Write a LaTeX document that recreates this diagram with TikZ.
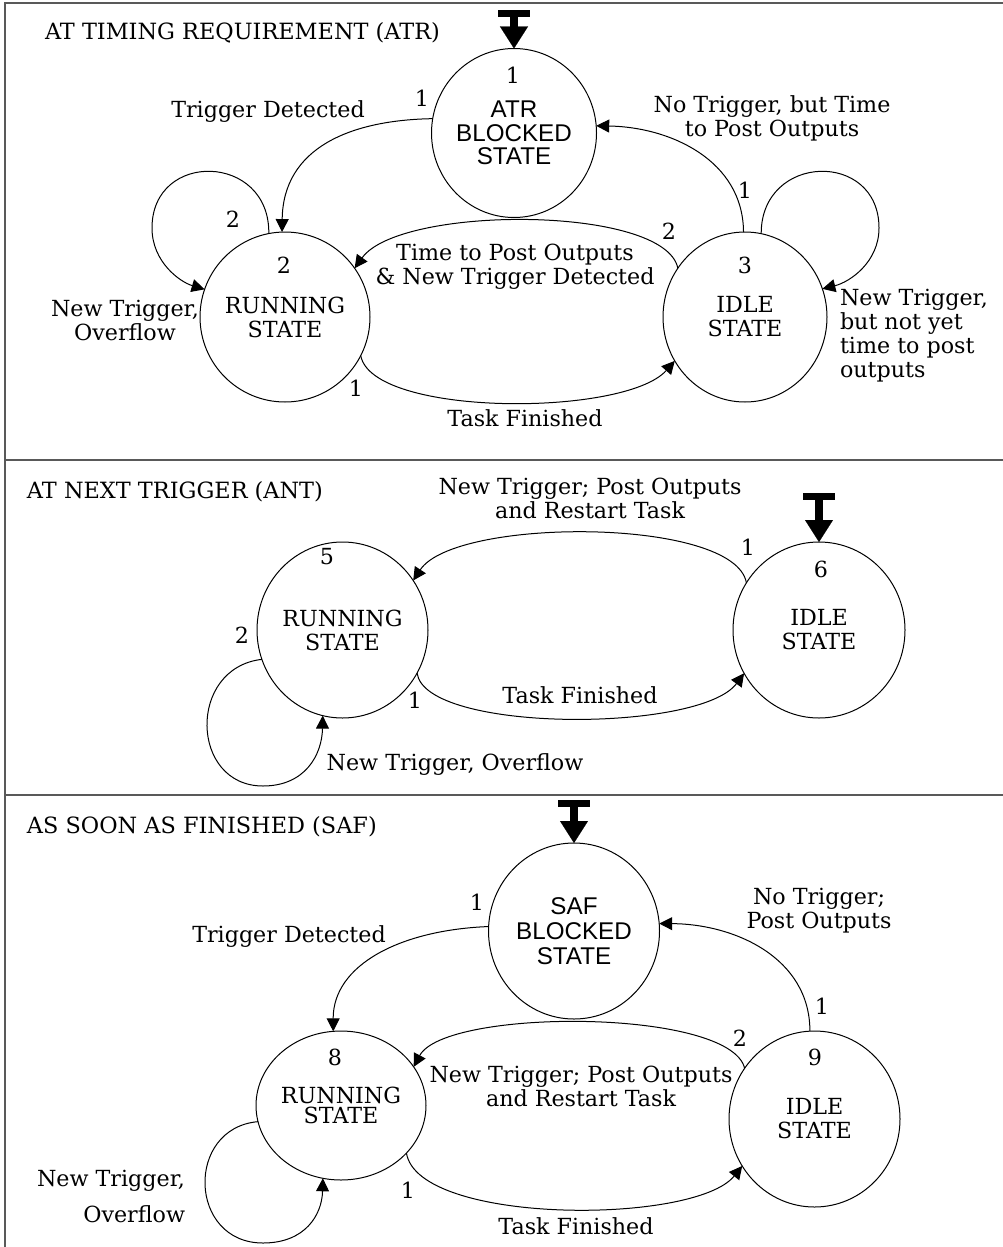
\documentclass[tikz,border=0pt]{standalone}
\usepackage{fontspec}
\setmainfont{DejaVu Serif}
\newfontfamily\statesans{Liberation Sans}
\usetikzlibrary{arrows.meta,shapes.geometric}
\newcommand\lblfont{\fontsize{22.2}{24}\selectfont}
\newcommand\ttlfont{\fontsize{22.4}{24}\selectfont}
\newcommand\sansfont{\statesans\fontsize{24.2}{23.5}\selectfont}

\begin{document}
\begin{tikzpicture}[x=1pt,y=-1pt,
  every node/.style={inner sep=0pt, outer sep=0pt},
  frame/.style={draw=black!65, line width=1.6pt},
  lbl/.style={font=\lblfont, align=center},
  ttl/.style={font=\ttlfont, anchor=west},
  stnode/.style 2 args={ellipse, draw, line width=1pt, minimum width=#1, minimum height=#2, align=center, font=\lblfont},
  edge/.style={draw, line width=1pt, -{Triangle[length=13pt,width=13pt]}},
  initarrow/.style={draw, line width=8pt, {Rectangle[length=7pt,width=32pt]}-{Triangle[length=22pt,width=28pt,line width=0.1pt]}},
]
\useasboundingbox (0,0) rectangle (1003,1247);

% panel frame and separators
\draw[frame] (5,1247) -- (5,3) -- (1003,3);
\draw[frame] (5,460) -- (1003,460);
\draw[frame] (5,795) -- (1003,795);

% ================= ATR =================
\node[ttl] (t1) at (45,33) {AT TIMING REQUIREMENT (ATR)};

\node[stnode={165}{169}, font=\sansfont] (n1) at (514,133) {ATR\\BLOCKED\\STATE};
\node[stnode={165}{170}] (n2) at (285,317) {RUNNING\\STATE};
\node[stnode={164}{170}] (n3) at (745,317) {IDLE\\STATE};
\node[lbl] (n1num) at (513,75) {1};
\node[lbl] (n2num) at (284,265) {2};
\node[lbl] (n3num) at (745,265) {3};

\coordinate (s1) at (514,10);
\draw[initarrow] (s1) -- (n1.north);

\draw[edge] (n1.170) .. controls (350,120) and (283,148) .. (n2.92);
\draw[edge] (n2.101) .. controls (270,153) and (152,150) .. (152,228)
                     .. controls (152,262) and (180,282) .. (n2.161);
\draw[edge] (n3.144) .. controls (665,205) and (400,205) .. (n2.35);
\draw[edge] (n2.-27) .. controls (372,417) and (625,417) .. (n3.212);
\draw[edge] (n3.91) .. controls (743,160) and (670,127) .. (n1.5);
\draw[edge] (n3.79) .. controls (761,153) and (879,150) .. (879,228)
                    .. controls (879,262) and (850,282) .. (n3.20);

\node[lbl] (p1a) at (422,98) {1};
\node[lbl] (p1b) at (268,112) {Trigger Detected};
\node[lbl] (p1c) at (233,219) {2};
\node[lbl] (p1d) at (125,320) {New Trigger,\\Overflow};
\node[lbl] (p1e) at (669,231) {2};
\node[lbl] (p1f) at (515,267) {Time to Post Outputs\\\& New Trigger Detected};
\node[lbl] (p1g) at (356,388) {1};
\node[lbl] (p1h) at (525,418) {Task Finished};
\node[lbl] (p1i) at (745,190) {1};
\node[lbl] (p1j) at (772,118) {No Trigger, but Time\\to Post Outputs};
\node[lbl, align=left, anchor=west] (p1k) at (840,336) {New Trigger,\\but not yet\\time to post\\outputs};

% ================= ANT =================
\node[ttl] (t2) at (27,492) {AT NEXT TRIGGER (ANT)};

\node[stnode={171}{176}] (n5) at (342.5,630) {RUNNING\\STATE};
\node[stnode={172}{176}] (n6) at (819,630) {IDLE\\STATE};
\node[lbl] (n5num) at (327,557) {5};
\node[lbl] (n6num) at (821,569) {6};

\coordinate (s6) at (819,493);
\draw[initarrow] (s6) -- (n6.north);

\draw[edge] (n6.147) .. controls (735,517) and (455,517) .. (n5.35);
\draw[edge] (n5.-30) .. controls (425,733) and (700,733) .. (n6.210);
\draw[edge] (n5.200) .. controls (187,668) and (190,786) .. (263,786)
                     .. controls (305,786) and (322,755) .. (n5.257);

\node[lbl] (p2a) at (748,547) {1};
\node[lbl] (p2b) at (590,498) {New Trigger; Post Outputs\\and Restart Task};
\node[lbl] (p2c) at (415,700) {1};
\node[lbl] (p2d) at (580,695) {Task Finished};
\node[lbl] (p2e) at (242,635) {2};
\node[lbl] (p2f) at (455,765) {New Trigger, Overflow};

% ================= SAF =================
\node[ttl] (t3) at (27,827) {AS SOON AS FINISHED (SAF)};

\node[stnode={171}{176}, font=\statesans\fontsize{24.2}{25}\selectfont] (saf) at (574,931) {SAF\\BLOCKED\\STATE};
\node[stnode={162}{149}, font=\fontsize{22.2}{20.5}\selectfont] (n8) at (341,1105.5) {RUNNING\\STATE};
\node[stnode={171}{176}] (n9) at (814.5,1119) {IDLE\\STATE};
\node[lbl] (n8num) at (335,1057) {8};
\node[lbl] (n9num) at (815,1057) {9};

\coordinate (s9) at (574,800);
\draw[initarrow] (s9) -- (saf.north);

\draw[edge] (saf.177) .. controls (400,930) and (333,965) .. (n8.96);
\draw[edge] (n8.191) .. controls (185,1128) and (188,1243) .. (263,1243)
                     .. controls (305,1243) and (322,1215) .. (n8.256);
\draw[edge] (n9.144) .. controls (730,1008) and (445,1008) .. (n8.28);
\draw[edge] (n8.-36) .. controls (418,1225) and (695,1225) .. (n9.213);
\draw[edge] (n9.93) .. controls (810,958) and (735,924) .. (saf.5);

\node[lbl] (p3a) at (477,902) {1};
\node[lbl] (p3b) at (289,937) {Trigger Detected};
\node[lbl, align=right, anchor=east] (p3c) at (185,1196) {New Trigger,\\[12pt]Overflow};
\node[lbl] (p3d) at (740,1038) {2};
\node[lbl] (p3e) at (581,1086) {New Trigger; Post Outputs\\and Restart Task};
\node[lbl] (p3f) at (408,1190) {1};
\node[lbl] (p3g) at (576,1226) {Task Finished};
\node[lbl] (p3h) at (822,1006) {1};
\node[lbl] (p3i) at (819,911) {No Trigger;\\Post Outputs};
\end{tikzpicture}
\end{document}
